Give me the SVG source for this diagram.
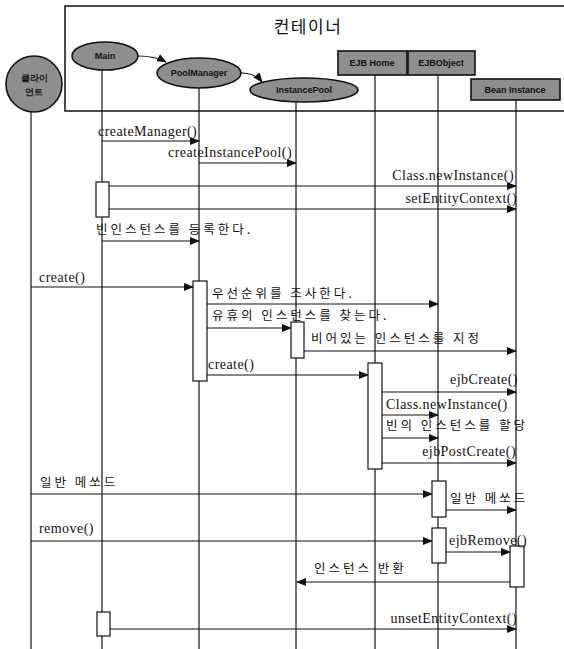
<svg xmlns="http://www.w3.org/2000/svg" width="564" height="649" viewBox="0 0 564 649">
<style>
.ll{stroke:#111;stroke-width:1.2;fill:none}
.msg{stroke:#111;stroke-width:1.2;fill:none;marker-end:url(#ah)}
.act{fill:#fff;stroke:#111;stroke-width:1.2}
.en{font-family:"Liberation Serif",serif;font-size:14px;fill:#111;letter-spacing:0.45px}
.ko{font-family:"Noto Sans CJK KR",sans-serif;font-size:12.5px;fill:#111;letter-spacing:3px}
.node{fill:#8e8e8e;stroke:#111;stroke-width:1.6}
.nt{font-family:"Liberation Sans",sans-serif;font-size:9px;font-weight:bold;fill:#111;text-anchor:middle}
</style>
<defs>
<marker id="ah" markerWidth="10" markerHeight="8" refX="9" refY="4" orient="auto" markerUnits="userSpaceOnUse">
<path d="M0,0 L10,4 L0,8 z" fill="#111"/>
</marker>
</defs>
<rect width="564" height="649" fill="#fff"/>
<g id="container">
<path d="M566,6 L65,6 L65,111 L566,111" fill="none" stroke="#111" stroke-width="1.5"/>
<text x="308" y="33" font-family="Noto Sans CJK KR,sans-serif" font-size="17" fill="#111" text-anchor="middle" letter-spacing="1.5">컨테이너</text>
</g>
<g id="connectors">
<line class="ll" x1="31" y1="112" x2="31" y2="649"/>
<line class="ll" x1="102" y1="70" x2="102" y2="649"/>
<line class="ll" x1="199" y1="88" x2="199" y2="649"/>
<line class="ll" x1="296" y1="102" x2="296" y2="649"/>
<line class="ll" x1="375" y1="75" x2="375" y2="649"/>
<line class="ll" x1="438" y1="75" x2="438" y2="649"/>
<line class="ll" x1="516" y1="100" x2="516" y2="649"/>
<path class="msg" d="M138,56 Q155,56 166,62"/>
<path class="msg" d="M241,73 Q255,73 262,82"/>
<line class="msg" x1="102" y1="141" x2="199" y2="141"/>
<line class="msg" x1="199" y1="163" x2="296" y2="163"/>
<line class="msg" x1="109" y1="186" x2="516" y2="186"/>
<line class="msg" x1="109" y1="209" x2="516" y2="209"/>
<line class="msg" x1="102" y1="241" x2="199" y2="241"/>
<line class="msg" x1="31" y1="287" x2="193" y2="287"/>
<line class="msg" x1="207" y1="304" x2="438" y2="304"/>
<line class="msg" x1="207" y1="328" x2="291" y2="328"/>
<line class="msg" x1="304" y1="351" x2="516" y2="351"/>
<line class="msg" x1="207" y1="375" x2="368" y2="375"/>
<line class="msg" x1="382" y1="392" x2="516" y2="392"/>
<line class="msg" x1="382" y1="415" x2="438" y2="415"/>
<line class="msg" x1="382" y1="438" x2="438" y2="438"/>
<line class="msg" x1="382" y1="463" x2="516" y2="463"/>
<line class="msg" x1="31" y1="494" x2="432" y2="494"/>
<line class="msg" x1="446" y1="510" x2="516" y2="510"/>
<line class="msg" x1="31" y1="541" x2="432" y2="541"/>
<line class="msg" x1="446" y1="552" x2="510" y2="552"/>
<line class="msg" x1="510" y1="582" x2="297" y2="582"/>
<line class="msg" x1="110" y1="629" x2="516" y2="629"/>
</g>
<g id="client">
<circle class="node" cx="34" cy="84" r="28"/>
<text class="nt" x="34" y="81">클라이</text>
<text class="nt" x="34" y="95">언트</text>
</g>
<g id="main">
<ellipse class="node" cx="105" cy="56" rx="33" ry="14"/>
<text class="nt" x="105" y="59">Main</text>
</g>
<g id="poolmanager">
<ellipse class="node" cx="199" cy="73" rx="42" ry="15"/>
<text class="nt" x="199" y="76">PoolManager</text>
</g>
<g id="instancepool">
<ellipse class="node" cx="304" cy="90" rx="54" ry="12"/>
<text class="nt" x="304" y="93">InstancePool</text>
</g>
<g id="ejbhome">
<rect class="node" x="338" y="51" width="69" height="24"/>
<text class="nt" x="372" y="66">EJB Home</text>
</g>
<g id="ejbobject">
<rect class="node" x="408" y="51" width="67" height="24"/>
<text class="nt" x="441" y="66">EJBObject</text>
</g>
<g id="beaninstance">
<rect class="node" x="471" y="79" width="89" height="21"/>
<text class="nt" x="515" y="93">Bean Instance</text>
</g>
<g id="activations">
<rect class="act" x="96" y="182" width="13" height="35"/>
<rect class="act" x="193" y="281" width="14" height="100"/>
<rect class="act" x="291" y="322" width="13" height="36"/>
<rect class="act" x="368" y="363" width="14" height="106"/>
<rect class="act" x="432" y="481" width="14" height="36"/>
<rect class="act" x="432" y="528" width="14" height="35"/>
<rect class="act" x="510" y="546" width="14" height="41"/>
<rect class="act" x="97" y="612" width="13" height="24"/>
</g>
<g id="labels">
<text class="en" x="98" y="136">createManager()</text>
<text class="en" x="168" y="157">createInstancePool()</text>
<text class="en" x="514" y="180" text-anchor="end">Class.newInstance()</text>
<text class="en" x="517" y="203" text-anchor="end">setEntityContext()</text>
<text class="ko" x="96" y="234">빈인스턴스를 등록한다.</text>
<text class="en" x="39" y="282">create()</text>
<text class="ko" x="212" y="298">우선순위를 조사한다.</text>
<text class="ko" x="212" y="320">유휴의 인스턴스를 찾는다.</text>
<text class="ko" x="311" y="343">비어있는 인스턴스를 지정</text>
<text class="en" x="208" y="369">create()</text>
<text class="en" x="518" y="384" text-anchor="end">ejbCreate()</text>
<text class="en" x="386" y="409">Class.newInstance()</text>
<text class="ko" x="386" y="430">빈의 인스턴스를 할당</text>
<text class="en" x="516" y="456" text-anchor="end">ejbPostCreate()</text>
<text class="ko" x="40" y="487">일반 메쏘드</text>
<text class="ko" x="450" y="503">일반 메쏘드</text>
<text class="en" x="39" y="533">remove()</text>
<text class="en" x="449" y="545">ejbRemove()</text>
<text class="ko" x="314" y="573">인스턴스 반환</text>
<text class="en" x="517" y="623" text-anchor="end">unsetEntityContext()</text>
</g>
</svg>
